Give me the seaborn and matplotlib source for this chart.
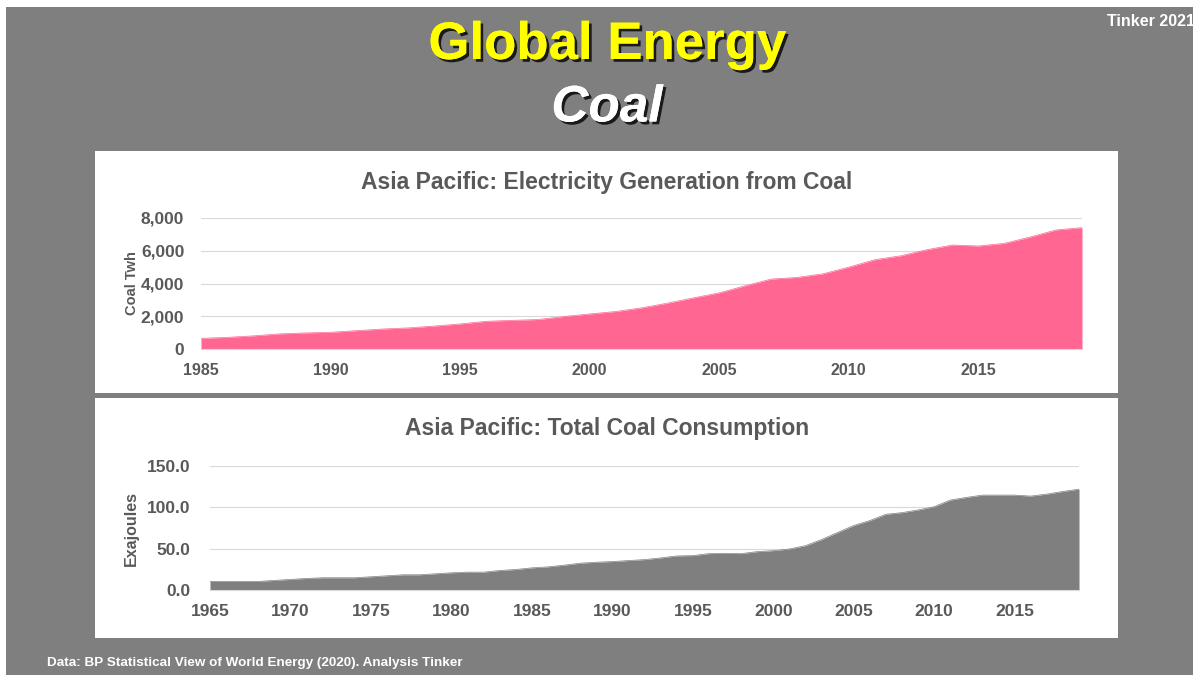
import numpy as np
import pandas as pd
import seaborn as sns
import matplotlib.pyplot as plt
import matplotlib.patheffects as pe
from matplotlib.patches import Rectangle
from matplotlib.ticker import MultipleLocator, FuncFormatter

# Asia Pacific electricity generation from coal (TWh)
gen_years = list(range(1985, 2020))
gen_twh = [650, 710, 800, 920, 980, 1020, 1120, 1220, 1290, 1400,
           1530, 1690, 1750, 1800, 1980, 2140, 2290, 2510, 2800, 3120,
           3430, 3860, 4270, 4370, 4590, 5000, 5450, 5690, 6060, 6350,
           6290, 6450, 6840, 7270, 7410]

# Asia Pacific total coal consumption (EJ)
cons_years = list(range(1965, 2020))
cons_ej = [10.4, 10.4, 10.4, 10.4, 11.6, 12.8, 14.0, 14.8, 14.8, 14.8,
           16.0, 17.2, 18.4, 18.4, 19.6, 20.8, 21.6, 21.6, 23.6, 24.8,
           26.8, 28.0, 30.0, 32.4, 33.6, 34.4, 35.6, 36.8, 38.8, 41.2,
           41.6, 44.0, 44.4, 44.0, 46.4, 47.6, 49.6, 53.6, 61.0, 69.6,
           78.0, 84.0, 91.6, 93.6, 96.8, 100.8, 108.8, 112.0, 114.8, 114.8,
           114.8, 113.6, 116.0, 119.2, 122.0]

top_title = "Asia Pacific: Electricity Generation from Coal"
bottom_title = "Asia Pacific: Total Coal Consumption"

sns.set_style("white")
plt.rcParams['font.family'] = ['Liberation Sans', 'DejaVu Sans']

W, H = 1193, 675
fig = plt.figure(figsize=(W / 100, H / 100), dpi=100)
fig.patch.set_facecolor("white")


def fx(px):
    return px / W


def fy(py):
    return 1 - py / H


# grey slide background
fig.patches.append(Rectangle((fx(6), 0), 1 - fx(6), fy(7), transform=fig.transFigure,
                             facecolor="#7f7f7f", edgecolor="none", zorder=0))
# white chart panels
for y0, y1 in [(151, 393), (398, 638)]:
    fig.patches.append(Rectangle((fx(95), fy(y1)), fx(1118) - fx(95), fy(y0) - fy(y1),
                                 transform=fig.transFigure, facecolor="white",
                                 edgecolor="none", zorder=1))

label_col = "#595959"
grid_col = "#d9d9d9"


def style_axis(ax, x0, x1, ylab, yfmt, xsize, ysize, ypad, labsize, labpad):
    ax.set_xlim(x0, x1)
    ax.xaxis.set_major_locator(MultipleLocator(5))
    ax.xaxis.set_minor_locator(MultipleLocator(1))
    ax.tick_params(axis="x", which="both", direction="out", length=5, width=0.8,
                   color=grid_col, labelsize=xsize, labelcolor=label_col, pad=5)
    ax.tick_params(axis="y", length=0, labelsize=ysize, labelcolor=label_col, pad=ypad)
    ax.yaxis.set_major_formatter(FuncFormatter(yfmt))
    ax.grid(axis="y", color=grid_col, lw=0.8)
    ax.set_axisbelow(True)
    for s in ["top", "right", "left"]:
        ax.spines[s].set_visible(False)
    ax.spines["bottom"].set_color(grid_col)
    for lab in ax.get_xticklabels() + ax.get_yticklabels():
        lab.set_fontweight("bold")
    ax.set_xlabel("")
    ax.set_ylabel(ylab, fontsize=labsize, fontweight="bold", color=label_col, labelpad=labpad)
    ax.patch.set_alpha(0)


# top chart
ax1 = fig.add_axes([fx(201), fy(349), fx(1082) - fx(201), fy(218) - fy(349)], zorder=2)
df_gen = pd.DataFrame({"year": gen_years, "twh": gen_twh})
ax1.fill_between(df_gen["year"], df_gen["twh"], color="#ff6692", lw=0)
sns.lineplot(data=df_gen, x="year", y="twh", ax=ax1, color="#ff6692", lw=0.5)
ax1.set_ylim(0, 8000)
ax1.yaxis.set_major_locator(MultipleLocator(2000))
style_axis(ax1, 1985, 2019, "Coal Twh", lambda v, p: f"{v:,.0f}",
           xsize=11.5, ysize=12.5, ypad=12, labsize=10.5, labpad=1)
fig.text(fx(607), fy(182), top_title, ha="center", va="center", fontsize=16.5,
         fontweight="bold", color=label_col, zorder=3)

# bottom chart
ax2 = fig.add_axes([fx(210), fy(590), fx(1079) - fx(210), fy(466) - fy(590)], zorder=2)
df_cons = pd.DataFrame({"year": cons_years, "ej": cons_ej})
ax2.fill_between(df_cons["year"], df_cons["ej"], color="#7f7f7f", lw=0)
sns.lineplot(data=df_cons, x="year", y="ej", ax=ax2, color="#7f7f7f", lw=0.5)
ax2.set_ylim(0, 150)
ax2.yaxis.set_major_locator(MultipleLocator(50))
style_axis(ax2, 1965, 2019, "Exajoules", lambda v, p: f"{v:.1f}",
           xsize=12.5, ysize=12.5, ypad=14, labsize=11.5, labpad=6)
fig.text(fx(607), fy(429), bottom_title, ha="center", va="center", fontsize=16.5,
         fontweight="bold", color=label_col, zorder=3)

# slide titles
shadow = [pe.withSimplePatchShadow(offset=(2, -2), shadow_rgbFace="black", alpha=0.8), pe.Normal()]
fig.text(fx(607), fy(45), "Global Energy", ha="center", va="center", fontsize=38,
         fontweight="bold", color="#ffff00", path_effects=shadow, zorder=3)
fig.text(fx(607), fy(108), "Coal", ha="center", va="center", fontsize=37,
         fontweight="bold", style="italic", color="white", path_effects=shadow, zorder=3)
fig.text(fx(1107), fy(22), "Tinker 2021", ha="left", va="center", fontsize=11.5,
         fontweight="bold", color="white", zorder=3)
fig.text(fx(47), fy(663), "Data: BP Statistical View of World Energy (2020). Analysis Tinker",
         ha="left", va="center", fontsize=9.7, fontweight="bold", color="white", zorder=3)

fig.savefig("out.png", dpi=100)
